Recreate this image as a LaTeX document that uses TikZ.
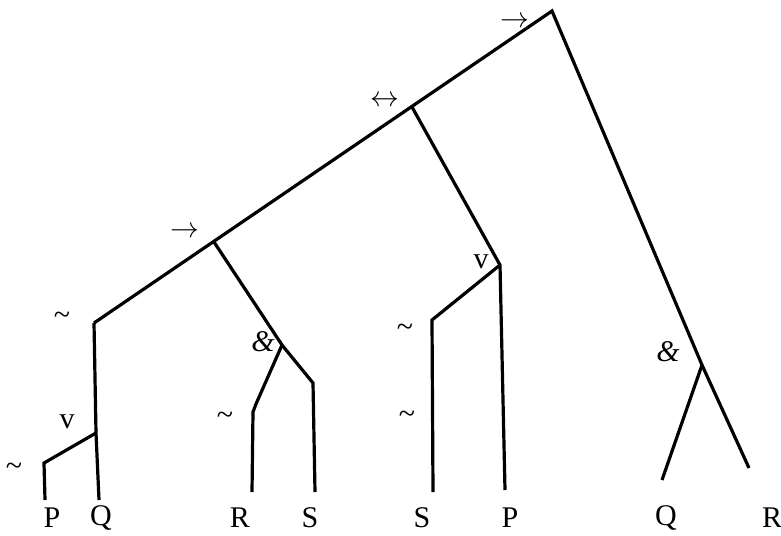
\documentclass[tikz,border=0pt]{standalone}
\usepackage{fontspec}
\setmainfont{Liberation Serif}
\usetikzlibrary{positioning}

\begin{document}
\begin{tikzpicture}[
    x=0.5pt, y=-0.5pt,
    font=\fontsize{15}{17}\selectfont,
    branch/.style={line width=1.6pt, line join=miter},
    op/.style={inner sep=0pt},
    leaf/.style={inner sep=0pt}
  ]
  \useasboundingbox (0,0) rectangle (781,535);

  % junctions of the tree
  \coordinate (root)  at (552,11);
  \coordinate (iff)   at (412,107);
  \coordinate (imp)   at (214,242);
  \coordinate (notA)  at (94,323);
  \coordinate (orA)   at (96,433);
  \coordinate (notB)  at (44,463);
  \coordinate (andA)  at (282,345);
  \coordinate (kneeS) at (313,383);
  \coordinate (kneeR) at (256,404);
  \coordinate (notC)  at (253,412);
  \coordinate (orB)   at (500,265);
  \coordinate (notD)  at (432,320);
  \coordinate (andB)  at (702,365);

  % ends of the branches
  \coordinate (eP1) at (45,500);
  \coordinate (eQ1) at (99,500);
  \coordinate (eR1) at (252,492);
  \coordinate (eS1) at (315,492);
  \coordinate (eS2) at (433,492);
  \coordinate (eP2) at (505,490);
  \coordinate (eQ3) at (662,480);
  \coordinate (eR3) at (749,468);

  % connectives
  \node[op] (lroot) at (515,22)  {$\rightarrow$};
  \node[op] (liff)  at (385,101) {$\leftrightarrow$};
  \node[op] (limp)  at (185,232) {$\rightarrow$};
  \node[op] (lnotA) at (62,318)  {\textasciitilde};
  \node[op] (lorA)  at (67,422)  {v};
  \node[op] (lnotB) at (14,469)  {\textasciitilde};
  \node[op] (landA) at (263,342) {\textit{\&}};
  \node[op] (lnotC) at (225,418) {\textasciitilde};
  \node[op] (lorB)  at (481,262) {v};
  \node[op] (lnotD) at (405,330) {\textasciitilde};
  \node[op] (lnotE) at (407,417) {\textasciitilde};
  \node[op] (landB) at (668,352) {\textit{\&}};

  % letters
  \node[leaf] (P1) at (52,518)  {P};
  \node[leaf] (Q1) at (101,518) {Q};
  \node[leaf] (R1) at (240,518) {R};
  \node[leaf] (S1) at (310,518) {S};
  \node[leaf] (S2) at (422,518) {S};
  \node[leaf] (P2) at (510,518) {P};
  \node[leaf] (Q3) at (666,518) {Q};
  \node[leaf] (R3) at (772,518) {R};

  \draw[branch] (notA) -- (root) -- (andB) -- (eR3);
  \draw[branch] (eQ1) -- (orA) -- (notA);
  \draw[branch] (eP1) -- (notB) -- (orA);
  \draw[branch] (imp) -- (andA) -- (kneeS) -- (eS1);
  \draw[branch] (andA) -- (kneeR) -- (notC) -- (eR1);
  \draw[branch] (iff) -- (orB) -- (eP2);
  \draw[branch] (orB) -- (notD) -- (eS2);
  \draw[branch] (andB) -- (eQ3);

\end{tikzpicture}
\end{document}
